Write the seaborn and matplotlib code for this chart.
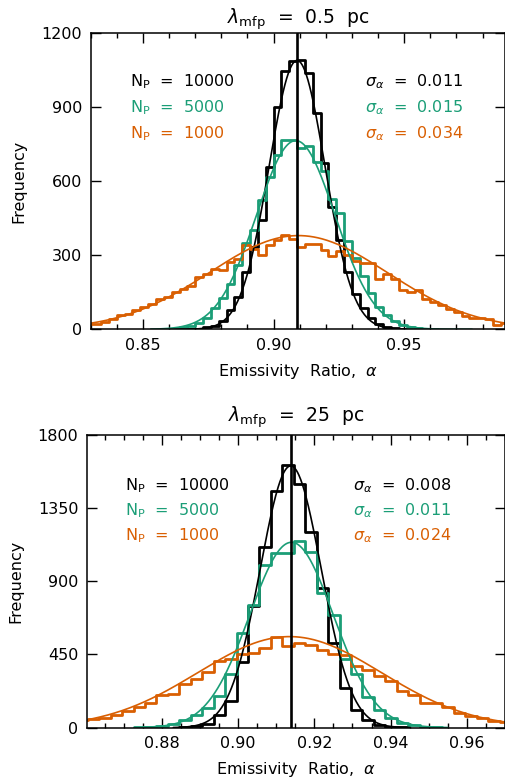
import numpy as np
import pandas as pd
import matplotlib
matplotlib.use("Agg")
import matplotlib.pyplot as plt
import seaborn as sns
from matplotlib.ticker import MultipleLocator

sns.set_style("ticks")
plt.rcParams['font.family'] = ['DejaVu Sans']
plt.rcParams['mathtext.fontset'] = 'dejavusans'
plt.rcParams['text.color'] = 'black'
plt.rcParams['axes.labelcolor'] = 'black'
plt.rcParams['xtick.color'] = 'black'
plt.rcParams['ytick.color'] = 'black'
plt.rcParams['axes.edgecolor'] = 'black'

# colours for the three particle numbers
labels_np = ["10000", "5000", "1000"]
line_colors = ["black", "#1b9e77", "#d95f02"]

bin_width = 0.003

# ---- top panel: lambda_mfp = 0.5 pc ----
top_edge0 = 0.909          # a bin edge; bins are edge0 + k*bin_width
top_first = [-14, -17, -27]  # index of first bin for each series
top_black = [1, 3, 8, 15, 35, 77, 131, 232, 334, 442, 658, 900, 1048, 1088,
             1092, 1040, 875, 676, 496, 361, 232, 142, 85, 45, 22, 9, 4, 1]
top_green = [1, 3, 8, 14, 25, 45, 85, 125, 185, 260, 350, 402, 523, 617, 705, 766, 768,
             735, 745, 680, 640, 530, 470, 360, 290, 215, 148, 90, 58, 32, 18, 10, 5, 3, 1]
top_orange = [23, 23, 30, 43, 57, 64, 77, 90, 104, 124, 131, 151, 165, 174, 212, 226,
              246, 239, 273, 286, 340, 327, 300, 340, 361, 381, 368,
              335, 345, 345, 322, 298, 318, 300, 275, 268, 270, 205, 226, 205, 160,
              150, 158, 124, 111, 98, 84, 71, 55, 46, 44, 40, 16, 25]
top_sigma_text = ["0.011", "0.015", "0.034"]
# gaussian fits: amplitude, centre, width, drawn range
top_fit_amp = [1090, 765, 380]
top_fit_mu = [0.909, 0.9085, 0.9095]
top_fit_sig = [0.0107, 0.015, 0.034]
top_fit_range = [(0.862, 0.950), (0.853, 0.976), (0.83, 0.99)]
top_mean = 0.909

# ---- bottom panel: lambda_mfp = 25 pc ----
bot_edge0 = 0.9146
bot_first = [-10, -14, -19]
bot_black = [3, 8, 25, 75, 165, 406, 750, 1113, 1455, 1616,
             1500, 1206, 857, 519, 242, 109, 47, 17, 6, 2]
bot_green = [2, 5, 12, 25, 45, 80, 120, 195, 330, 580, 755, 1000, 1072, 1072,
             1150, 1080, 830, 690, 420, 330, 190, 110, 60, 30, 14, 6, 2]
bot_orange = [45, 52, 58, 80, 102, 125, 152, 198, 210, 270, 300, 340, 410, 425, 450,
              460, 490, 560, 500,
              519, 508, 480, 450, 445, 380, 355, 320, 285, 225, 202, 152, 150, 128,
              93, 70, 57, 40, 32]
bot_sigma_text = ["0.008", "0.011", "0.024"]
bot_fit_amp = [1610, 1140, 560]
bot_fit_mu = [0.9138, 0.914, 0.9135]
bot_fit_sig = [0.008, 0.011, 0.024]
bot_fit_range = [(0.883, 0.945), (0.875, 0.955), (0.86, 0.97)]
bot_mean = 0.914

FS = 11.5


def draw_panel(ax, edge0, firsts, series, amps, mus, sigs, ranges, mean, sig_txt,
               title, xlim, ylim, yticks, xmajor, xminor, txt_x, txt_y, ylab_x):
    for first, counts, c in zip(firsts, series, line_colors):
        n = len(counts)
        edges = edge0 + bin_width * np.arange(first, first + n + 1)
        df = pd.DataFrame({"alpha": edges[:-1] + bin_width / 2, "count": counts})
        sns.histplot(data=df, x="alpha", weights="count", bins=list(edges),
                     element="step", fill=False, color=c, linewidth=2.0, ax=ax)
    for a, m, s, (lo, hi), c in zip(amps, mus, sigs, ranges, line_colors):
        xs = np.linspace(lo, hi, 400)
        fit = pd.DataFrame({"alpha": xs, "freq": a * np.exp(-0.5 * ((xs - m) / s) ** 2)})
        sns.lineplot(data=fit, x="alpha", y="freq", color=c, linewidth=1.2, ax=ax)
    ax.axvline(mean, color="black", linewidth=1.9)

    ax.set_xlim(*xlim)
    ax.set_ylim(*ylim)
    ax.set_yticks(yticks)
    ax.xaxis.set_major_locator(MultipleLocator(xmajor))
    ax.xaxis.set_minor_locator(MultipleLocator(xminor))
    ax.xaxis.set_major_formatter(matplotlib.ticker.FormatStrFormatter("%.2f"))
    ax.tick_params(which="both", direction="in", top=True, right=True,
                   labelsize=FS, width=1.0, pad=6)
    ax.tick_params(which="major", length=7)
    ax.tick_params(which="minor", length=3.5)
    for sp in ax.spines.values():
        sp.set_linewidth(1.1)

    ax.set_xlabel(r"Emissivity  Ratio,  $\alpha$", fontsize=FS)
    ax.set_ylabel("Frequency", fontsize=FS)
    ax.xaxis.set_label_coords(0.5, -0.112)
    ax.yaxis.set_label_coords(ylab_x, 0.5)
    ax.text(0.5, title[1], title[0], transform=ax.transAxes, ha="center",
            va="baseline", fontsize=13.5)

    for i, (lab, s, c) in enumerate(zip(labels_np, sig_txt, line_colors)):
        ax.text(txt_x[0], txt_y[i], r"N$_{\rm P}$  =  " + lab, color=c,
                transform=ax.transAxes, fontsize=FS, va="baseline")
        ax.text(txt_x[1], txt_y[i], r"$\sigma_\alpha$  =  " + s, color=c,
                transform=ax.transAxes, fontsize=FS, va="baseline")


fig = plt.figure(figsize=(5.05, 7.78), dpi=100)
ax1 = fig.add_axes([0.1796, 0.5767, 0.8204, 0.3805])
ax2 = fig.add_axes([0.1717, 0.0647, 0.8283, 0.3762])

draw_panel(ax1, top_edge0, top_first, [top_black, top_green, top_orange],
           top_fit_amp, top_fit_mu, top_fit_sig, top_fit_range, top_mean, top_sigma_text,
           (r"$\lambda_{\rm mfp}$  =  0.5  pc", 1.034), (0.83, 0.9886), (0, 1200),
           [0, 300, 600, 900, 1200], 0.05, 0.01,
           (0.095, 0.662), (0.822, 0.734, 0.646), -0.156)

draw_panel(ax2, bot_edge0, bot_first, [bot_black, bot_green, bot_orange],
           bot_fit_amp, bot_fit_mu, bot_fit_sig, bot_fit_range, bot_mean, bot_sigma_text,
           (r"$\lambda_{\rm mfp}$  =  25  pc", 1.045), (0.8603, 0.970), (0, 1800),
           [0, 450, 900, 1350, 1800], 0.02, 0.005,
           (0.0916, 0.637), (0.812, 0.727, 0.641), -0.152)

fig.savefig("out.png", dpi=100)
